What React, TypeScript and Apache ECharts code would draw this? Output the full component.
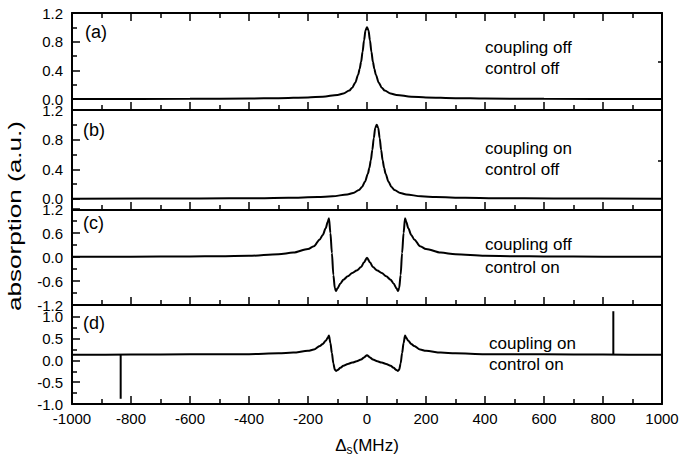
import React, { useEffect, useRef } from 'react';
import * as echarts from 'echarts';

const FONT = 'Liberation Sans, Arial, Helvetica, sans-serif';

// x range / ticks
const xMin = -1000;
const xMax = 1000;
const xStep = 200;

// Panel (a): coupling off, control off
const aX = [-1000, -600, -400, -300, -200, -150, -100, -80, -60, -50, -40, -30, -25, -20, -15, -10, -5, 0, 5, 10, 15, 20, 25, 30, 40, 50, 60, 80, 100, 150, 200, 300, 400, 600, 1000];
const aY = [0.002, 0.005, 0.01, 0.015, 0.025, 0.035, 0.06, 0.08, 0.12, 0.16, 0.23, 0.34, 0.42, 0.52, 0.66, 0.82, 0.96, 1.0, 0.96, 0.82, 0.66, 0.52, 0.42, 0.34, 0.23, 0.16, 0.12, 0.08, 0.06, 0.035, 0.025, 0.015, 0.01, 0.005, 0.002];

// Panel (b): coupling on, control off (peak shifted to ~ +33 MHz)
const bX = [-1000, -567, -367, -267, -167, -117, -67, -47, -27, -17, -7, 3, 8, 13, 18, 23, 28, 33, 38, 43, 48, 53, 58, 63, 73, 83, 93, 113, 133, 183, 233, 333, 433, 633, 1000];
const bY = [0.002, 0.005, 0.01, 0.015, 0.025, 0.035, 0.06, 0.08, 0.12, 0.16, 0.23, 0.34, 0.42, 0.52, 0.66, 0.82, 0.96, 1.0, 0.96, 0.82, 0.66, 0.52, 0.42, 0.34, 0.23, 0.16, 0.12, 0.08, 0.06, 0.035, 0.025, 0.015, 0.01, 0.005, 0.002];

// Panel (c): coupling off, control on
const cX = [-1000, -800, -600, -500, -400, -300, -250, -200, -180, -160, -150, -140, -133, -129, -124, -119, -114, -109, -105, -100, -90, -80, -65, -50, -35, -20, -10, 0, 10, 20, 35, 50, 65, 80, 90, 100, 105, 109, 114, 119, 124, 129, 133, 140, 150, 160, 180, 200, 250, 300, 400, 500, 600, 800, 1000];
const cY = [0.005, 0.008, 0.015, 0.02, 0.03, 0.07, 0.11, 0.2, 0.27, 0.44, 0.55, 0.72, 0.88, 0.97, 0.6, 0.1, -0.45, -0.78, -0.85, -0.78, -0.66, -0.57, -0.48, -0.4, -0.34, -0.25, -0.13, -0.02, -0.13, -0.25, -0.34, -0.4, -0.48, -0.57, -0.66, -0.78, -0.85, -0.78, -0.45, 0.1, 0.6, 0.97, 0.88, 0.72, 0.55, 0.44, 0.27, 0.2, 0.11, 0.07, 0.03, 0.02, 0.015, 0.008, 0.005];

// Panel (d): coupling on, control on
const dX = [-1000, -800, -600, -500, -400, -300, -250, -200, -180, -160, -150, -140, -133, -129, -124, -119, -114, -109, -105, -100, -90, -80, -65, -50, -35, -20, -10, 0, 10, 20, 35, 50, 65, 80, 90, 100, 105, 109, 114, 119, 124, 129, 133, 140, 150, 160, 180, 200, 250, 300, 400, 500, 600, 800, 1000];
const dY = [0.13, 0.135, 0.14, 0.14, 0.145, 0.165, 0.18, 0.22, 0.25, 0.33, 0.38, 0.45, 0.52, 0.57, 0.4, 0.17, -0.07, -0.21, -0.24, -0.22, -0.17, -0.12, -0.08, -0.05, -0.02, 0.02, 0.07, 0.12, 0.07, 0.02, -0.02, -0.05, -0.08, -0.12, -0.17, -0.22, -0.24, -0.21, -0.07, 0.17, 0.4, 0.57, 0.52, 0.45, 0.38, 0.33, 0.25, 0.22, 0.18, 0.165, 0.145, 0.14, 0.14, 0.135, 0.13];
const dSpikeLeft = [[-835, 0.135], [-835, -0.88]];
const dSpikeRight = [[835, 0.135], [835, 1.13]];

// y ticks
const yTicksAB = [0, 0.4, 0.8, 1.2];
const yMinorAB = [0.2, 0.6, 1.0];
const yRightAB = [0.52];
const yTicksC = [-1.2, -0.6, 0, 0.6, 1.2];
const yMinorC = [-0.9, -0.3, 0.3, 0.9];
const yTicksD = [-1.0, -0.5, 0, 0.5, 1.0];
const yMinorD = [-0.75, -0.25, 0.25, 0.75];

const panelLabels = ['(a)', '(b)', '(c)', '(d)'];
const couplingLabels = ['coupling off', 'coupling on', 'coupling off', 'coupling on'];
const controlLabels = ['control off', 'control off', 'control on', 'control on'];
const yTitle = 'absorption (a.u.)';

export default function App() {
  const ref = useRef<HTMLDivElement>(null);

  useEffect(() => {
    if (!ref.current) return;
    const chart = echarts.init(ref.current, null, { renderer: 'svg' });

    const grids = [
      { top: 13, height: 97 },
      { top: 110, height: 100 },
      { top: 209, height: 96 },
      { top: 306, height: 98 },
    ].map((g) => ({ left: 72, width: 590, top: g.top, height: g.height, containLabel: false }));

    const black = '#000';
    const xAxisCfg = (grid: number, position: string, showLabel: boolean) => ({
      type: 'value',
      gridIndex: grid,
      position,
      min: xMin,
      max: xMax,
      interval: xStep,
      axisLine: { show: true, onZero: false, lineStyle: { color: black, width: 2 } },
      axisTick: { show: true, inside: true, length: 8, lineStyle: { color: black, width: 1.5 } },
      minorTick: { show: true, splitNumber: 2, length: 5, lineStyle: { color: black, width: 1.5 } },
      axisLabel: {
        show: showLabel,
        color: black,
        fontSize: 15,
        fontFamily: FONT,
        margin: 7,
        formatter: (v: number) => String(Math.round(v)),
      },
      splitLine: { show: false },
      minorSplitLine: { show: false },
    });

    const mainY = (grid: number, min: number, max: number, ticks: number[]) => ({
      type: 'value',
      gridIndex: grid,
      position: 'left',
      min,
      max,
      axisLine: { show: true, onZero: false, lineStyle: { color: black, width: 2 } },
      axisTick: { show: true, inside: true, length: 8, customValues: ticks, lineStyle: { color: black, width: 1.5 } },
      axisLabel: {
        show: true,
        customValues: ticks,
        formatter: (v: number) => v.toFixed(1),
        color: black,
        fontSize: 15,
        fontFamily: FONT,
        margin: 9,
      },
      splitLine: { show: false },
    });
    const minorY = (grid: number, min: number, max: number, ticks: number[]) => ({
      type: 'value',
      gridIndex: grid,
      position: 'left',
      min,
      max,
      axisLine: { show: false, onZero: false },
      axisTick: { show: true, inside: true, length: 5, customValues: ticks, lineStyle: { color: black, width: 1.5 } },
      axisLabel: { show: false },
      splitLine: { show: false },
    });
    const rightY = (grid: number, min: number, max: number, ticks: number[]) => ({
      type: 'value',
      gridIndex: grid,
      position: 'right',
      min,
      max,
      axisLine: { show: true, onZero: false, lineStyle: { color: black, width: 2 } },
      axisTick: { show: ticks.length > 0, inside: true, length: 4, customValues: ticks, lineStyle: { color: black, width: 1.5 } },
      axisLabel: { show: false },
      splitLine: { show: false },
    });

    const xAxes = [
      xAxisCfg(0, 'bottom', false),
      xAxisCfg(0, 'top', false),
      xAxisCfg(1, 'bottom', false),
      xAxisCfg(2, 'bottom', false),
      xAxisCfg(3, 'bottom', true),
    ];
    const yAxes = [
      mainY(0, -0.15, 1.2, yTicksAB), minorY(0, -0.15, 1.2, yMinorAB), rightY(0, -0.15, 1.2, yRightAB),
      mainY(1, -0.15, 1.2, yTicksAB), minorY(1, -0.15, 1.2, yMinorAB), rightY(1, -0.15, 1.2, yRightAB),
      mainY(2, -1.2, 1.2, yTicksC), minorY(2, -1.2, 1.2, yMinorC), rightY(2, -1.2, 1.2, []),
      mainY(3, -1.0, 1.25, yTicksD), minorY(3, -1.0, 1.25, yMinorD), rightY(3, -1.0, 1.25, []),
    ];

    const lineSeries = (xi: number, yi: number, data: number[][], smooth: boolean) => ({
      type: 'line',
      xAxisIndex: xi,
      yAxisIndex: yi,
      data,
      showSymbol: false,
      symbol: 'none',
      smooth: smooth ? 0.3 : false,
      smoothMonotone: smooth ? 'x' : undefined,
      lineStyle: { color: black, width: 2 },
      itemStyle: { color: black },
      silent: true,
    });
    const zip = (xs: number[], ys: number[]) => xs.map((x, i) => [x, ys[i]]);

    const series = [
      lineSeries(0, 0, zip(aX, aY), true),
      lineSeries(2, 3, zip(bX, bY), true),
      lineSeries(3, 6, zip(cX, cY), true),
      lineSeries(4, 9, zip(dX, dY), true),
      lineSeries(4, 9, dSpikeLeft, false),
      lineSeries(4, 9, dSpikeRight, false),
    ];

    const labelPos = [
      { px: 85, py: 32, tx: 485, ty1: 47, ty2: 68 },
      { px: 83, py: 130, tx: 485, ty1: 148, ty2: 169 },
      { px: 83, py: 223, tx: 485, ty1: 244, ty2: 267 },
      { px: 83, py: 323, tx: 489, ty1: 343, ty2: 364 },
    ];
    const graphics: any[] = [];
    labelPos.forEach((p, i) => {
      graphics.push({
        type: 'text', x: p.px, y: p.py, silent: true,
        style: { text: panelLabels[i], fontSize: 18, fontFamily: FONT, fill: black, align: 'left', verticalAlign: 'middle' },
      });
      graphics.push({
        type: 'text', x: p.tx, y: p.ty1, silent: true,
        style: { text: couplingLabels[i], fontSize: 17, fontFamily: FONT, fill: black, align: 'left', verticalAlign: 'middle' },
      });
      graphics.push({
        type: 'text', x: p.tx, y: p.ty2, silent: true,
        style: { text: controlLabels[i], fontSize: 17, fontFamily: FONT, fill: black, align: 'left', verticalAlign: 'middle' },
      });
    });
    graphics.push({
      type: 'text', x: 15, y: 216, rotation: Math.PI / 2, scaleX: 1.45, silent: true,
      style: { text: yTitle, fontSize: 18, fontFamily: FONT, fill: black, align: 'center', verticalAlign: 'middle' },
    });
    graphics.push({
      type: 'text', x: 367, y: 445, silent: true,
      style: {
        text: '{a|Δ}{s|s}{a|(MHz)}',
        fill: black,
        align: 'center',
        verticalAlign: 'middle',
        rich: {
          a: { fontSize: 17, fontFamily: FONT, fill: black, lineHeight: 22 },
          s: { fontSize: 12, fontFamily: FONT, fill: black, lineHeight: 12, verticalAlign: 'bottom' },
        },
      },
    });

    chart.setOption({
      animation: false,
      backgroundColor: '#fff',
      grid: grids,
      xAxis: xAxes,
      yAxis: yAxes,
      series,
      graphic: graphics,
    });

    return () => chart.dispose();
  }, []);

  return <div ref={ref} style={{ position: 'absolute', left: 0, top: 0, width: '685px', height: '470px' }} />;
}
